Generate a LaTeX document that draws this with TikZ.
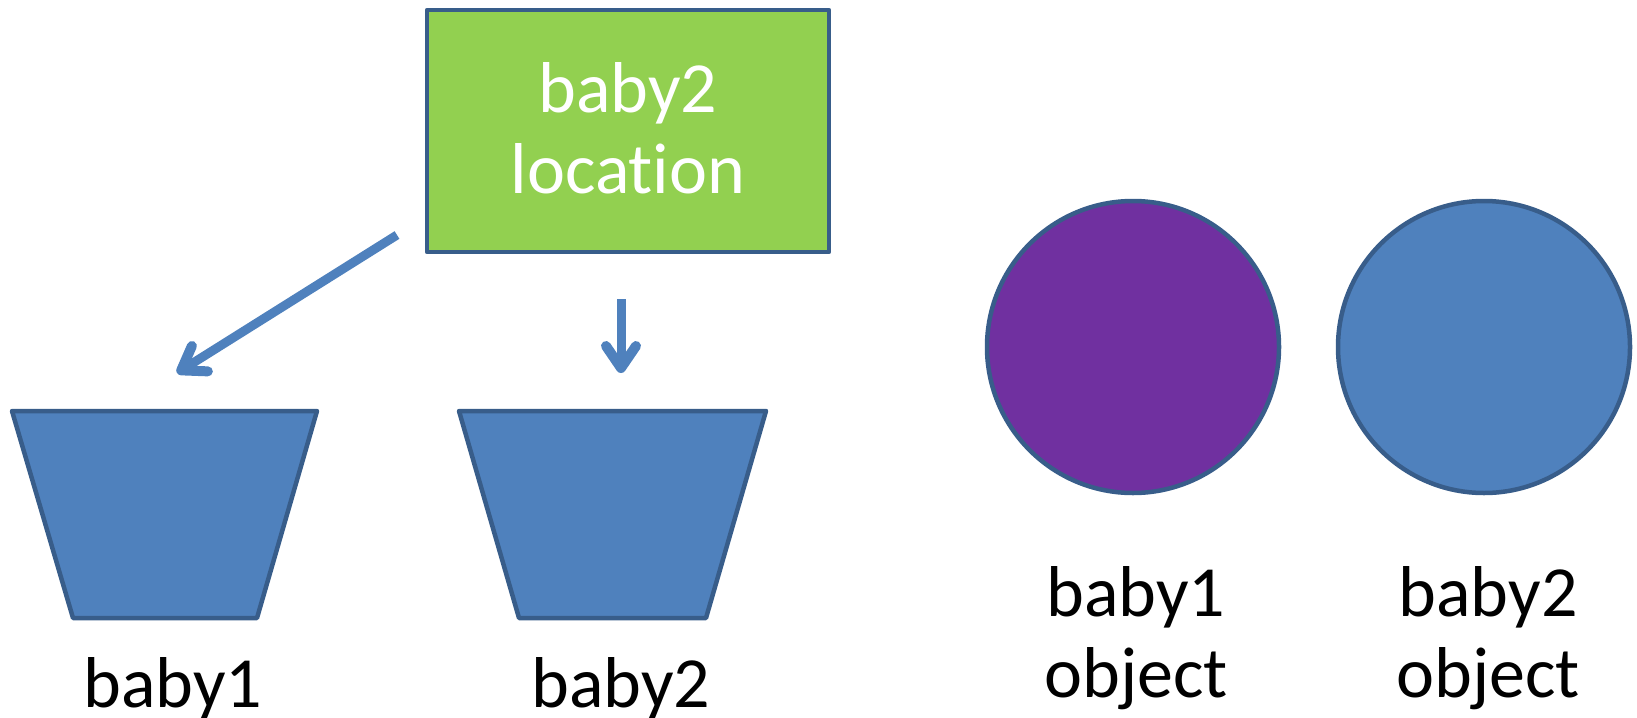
\documentclass[tikz,border=0pt]{standalone}
\usepackage{fontspec}
\setmainfont{Carlito}[Ligatures={NoCommon,NoRequired,NoContextual}]
\usetikzlibrary{arrows.meta}
\definecolor{shapeblue}{HTML}{4F81BD}
\definecolor{edgeblue}{HTML}{385D8A}
\definecolor{boxgreen}{HTML}{92D050}
\definecolor{ballpurple}{HTML}{7030A0}
\begin{document}
\begin{tikzpicture}[x=1pt,y=-1pt,
  shapestyle/.style={draw=edgeblue, line width=4.5pt, line join=round},
  lbl/.style={font=\fontsize{72}{81}\selectfont, align=center, inner sep=0pt},
  arr/.style={draw=shapeblue, line width=9pt,
    -{Straight Barb[length=22pt,width=30pt,line width=10pt,line cap=round,line join=round]}}]
\useasboundingbox (0,0) rectangle (1637,717);

% location box
\node[shapestyle, fill=boxgreen, minimum width=402pt, minimum height=242pt, inner sep=0pt] (loc) at (628,131) {};
\node[lbl, text=white] (loctext) at (628,128) {baby2\\locat\kern0pt ion};

% buckets
\draw[shapestyle, fill=shapeblue] (12,411) -- (317,411) -- (257,618) -- (73,618) -- cycle;
\draw[shapestyle, fill=shapeblue] (459,411) -- (766,411) -- (706,618) -- (519,618) -- cycle;
\coordinate (bucket1top) at (177,373);
\coordinate (bucket2top) at (621,373);
\coordinate (loc1) at (397,235);
\coordinate (loc2) at (621,299);

% balls
\node[circle, shapestyle, fill=ballpurple, minimum size=292pt, inner sep=0pt] (ball1) at (1133,347) {};
\node[circle, shapestyle, fill=shapeblue, minimum size=292pt, inner sep=0pt] (ball2) at (1484,347) {};

% arrows
\draw[arr] (loc1) -- (bucket1top);
\draw[arr] (loc2) -- (bucket2top);

% labels
\node[lbl, anchor=base] (lab1) at (173,707) {baby1};
\node[lbl, anchor=base] (lab2) at (621,707) {baby2};
\node[lbl] (lab3) at (1136,638) {baby1\\object};
\node[lbl] (lab4) at (1488,638) {baby2\\object};
\end{tikzpicture}
\end{document}
